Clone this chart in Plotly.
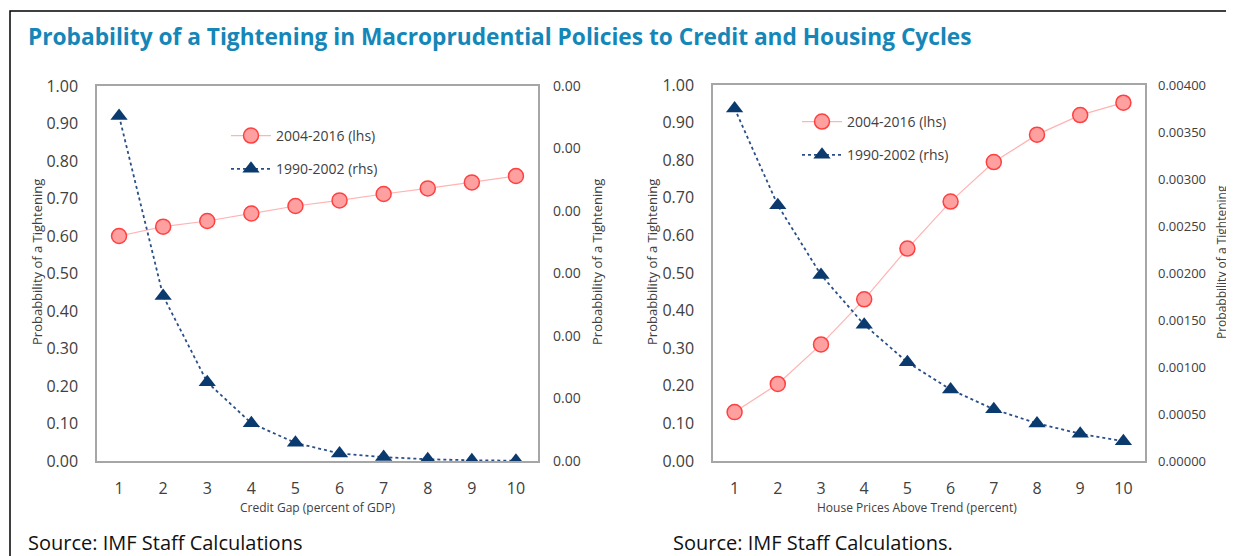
import plotly.graph_objects as go

W, H = 1234, 556
OFF = 8  # page body margin offset

x_vals = [1, 2, 3, 4, 5, 6, 7, 8, 9, 10]

# Left panel: credit gap
credit_2004_2016 = [0.600, 0.625, 0.640, 0.660, 0.680, 0.695, 0.712, 0.727, 0.743, 0.760]
credit_1990_2002 = [0.000552, 0.000264, 0.000126, 0.0000605, 0.000029, 0.000012, 0.0000062, 0.0000028, 0.0000012, 0.0000005]

# Right panel: house prices
house_2004_2016 = [0.130, 0.205, 0.310, 0.430, 0.565, 0.690, 0.795, 0.868, 0.920, 0.953]
house_1990_2002 = [0.00375, 0.00272, 0.00198, 0.00145, 0.00105, 0.00076, 0.00055, 0.00040, 0.00029, 0.00021]

title_text = "Probability of a Tightening in Macroprudential Policies to Credit and Housing Cycles"
y_title = "Probabbility of a Tightening"
x_title_left = "Credit Gap (percent of GDP)"
x_title_right = "House Prices Above Trend (percent)"
source_left = "Source: IMF Staff Calculations"
source_right = "Source: IMF Staff Calculations."
name_pink = "2004-2016 (lhs)"
name_blue = "1990-2002 (rhs)"

PINK_LINE = "#ffb3b3"
PINK_FILL = "#ffa0a0"
PINK_EDGE = "#ff4040"
BLUE = "#0a3a6e"
BLUE_LINE = "#2a4f88"
FRAME = "#a6a6a6"
TICK = "#404040"
FONT = "Open Sans"


def px_x(p):
    return (p - OFF) / W


def px_y(p):
    return (H - (p - OFF)) / H


fig = go.Figure()

# left panel traces
fig.add_trace(go.Scatter(
    x=x_vals, y=credit_2004_2016, name=name_pink, xaxis="x", yaxis="y",
    mode="lines+markers", line=dict(color=PINK_LINE, width=1.2),
    marker=dict(symbol="circle", size=15, color=PINK_FILL, line=dict(color=PINK_EDGE, width=1.5)),
    legend="legend", legendgroup="a", legendrank=1))
fig.add_trace(go.Scatter(
    x=x_vals, y=credit_1990_2002, name=name_blue, xaxis="x", yaxis="y2",
    mode="lines+markers", line=dict(color=BLUE_LINE, width=1.8, dash="dot"),
    marker=dict(symbol="triangle-up", size=15, color=BLUE),
    legend="legend", legendgroup="b", legendrank=2))

# right panel traces
fig.add_trace(go.Scatter(
    x=x_vals, y=house_2004_2016, name=name_pink, xaxis="x2", yaxis="y3",
    mode="lines+markers", line=dict(color=PINK_LINE, width=1.2),
    marker=dict(symbol="circle", size=15, color=PINK_FILL, line=dict(color=PINK_EDGE, width=1.5)),
    legend="legend2", legendgroup="c", legendrank=1))
fig.add_trace(go.Scatter(
    x=x_vals, y=house_1990_2002, name=name_blue, xaxis="x2", yaxis="y4",
    mode="lines+markers", line=dict(color=BLUE_LINE, width=1.8, dash="dot"),
    marker=dict(symbol="triangle-up", size=15, color=BLUE),
    legend="legend2", legendgroup="d", legendrank=2))

xdom_l = [px_x(97), px_x(538)]
xdom_r = [px_x(713), px_x(1145)]
ydom_l = [px_y(461), px_y(86)]
ydom_r = [px_y(461), px_y(85)]

xaxis_common = dict(range=[0.5, 10.5], tickmode="array", tickvals=x_vals,
                    showgrid=False, zeroline=False, showline=True, linecolor=FRAME,
                    linewidth=1.5, mirror=True, ticks="", ticklen=0,
                    tickfont=dict(family=FONT, size=16, color=TICK),
                    ticklabelstandoff=12, automargin=False)

ycommon = dict(showgrid=False, zeroline=False, ticks="", automargin=False)

fig.update_layout(
    width=W, height=H,
    margin=dict(l=0, r=0, t=0, b=0, pad=0, autoexpand=False),
    paper_bgcolor="white", plot_bgcolor="white",
    showlegend=True,
    xaxis=dict(domain=xdom_l, anchor="y", **xaxis_common),
    xaxis2=dict(domain=xdom_r, anchor="y3", **xaxis_common),
    yaxis=dict(domain=ydom_l, anchor="x", range=[0, 1], dtick=0.1, tickformat=".2f",
               showline=True, linecolor=FRAME, linewidth=1.5, mirror=True,
               tickfont=dict(family=FONT, size=16, color=TICK), ticklabelstandoff=14, **ycommon),
    yaxis2=dict(overlaying="y", anchor="x", side="right", range=[0, 0.0006], dtick=0.0001,
                tickformat=".2f", showline=False,
                tickfont=dict(family=FONT, size=14, color=TICK), ticklabelstandoff=14, **ycommon),
    yaxis3=dict(domain=ydom_r, anchor="x2", range=[0, 1], dtick=0.1, tickformat=".2f",
                showline=True, linecolor=FRAME, linewidth=1.5, mirror=True,
                tickfont=dict(family=FONT, size=16, color=TICK), ticklabelstandoff=14, **ycommon),
    yaxis4=dict(overlaying="y3", anchor="x2", side="right", range=[0, 0.004], dtick=0.0005,
                tickformat=".5f", showline=False,
                tickfont=dict(family=FONT, size=13, color=TICK), ticklabelstandoff=12, **ycommon),
    legend=dict(x=px_x(226), y=px_y(120), xanchor="left", yanchor="top",
                bgcolor="rgba(0,0,0,0)", font=dict(family=FONT, size=14, color="#404040"),
                traceorder="grouped", tracegroupgap=12, itemwidth=40),
    legend2=dict(x=px_x(797), y=px_y(106), xanchor="left", yanchor="top",
                 bgcolor="rgba(0,0,0,0)", font=dict(family=FONT, size=14, color="#404040"),
                 traceorder="grouped", tracegroupgap=12, itemwidth=40),
)


def ann(text, x, y, size, color=TICK, angle=0, xanchor="center"):
    return dict(text=text, x=px_x(x), y=px_y(y), xref="paper", yref="paper",
                textangle=angle, xanchor=xanchor, yanchor="middle", showarrow=False,
                font=dict(family=FONT, size=size, color=color))


annotations = [
    ann(f"<b>{title_text}</b>", 26, 36, 22.7, color="#1486b8", xanchor="left"),
    ann(y_title, 37, 262, 13, angle=-90),
    ann(y_title, 597, 262, 13, angle=-90),
    ann(y_title, 652, 262, 13, angle=-90),
    ann(y_title, 1221, 262, 12, angle=-90),
    ann(x_title_left, 318, 507, 12),
    ann(x_title_right, 917, 507, 12),
    ann(source_left, 26, 542, 20, color="#111111", xanchor="left"),
    ann(source_right, 671, 542, 20, color="#111111", xanchor="left"),
]
fig.update_layout(annotations=annotations)

# outer frame: top and left edges visible (rest cropped)
fig.add_shape(type="rect", xref="paper", yref="paper",
              x0=px_x(10), x1=1.1, y0=-0.1, y1=px_y(11),
              line=dict(color="black", width=1.5), fillcolor="rgba(0,0,0,0)", layer="below")

fig.write_html("out.html")
